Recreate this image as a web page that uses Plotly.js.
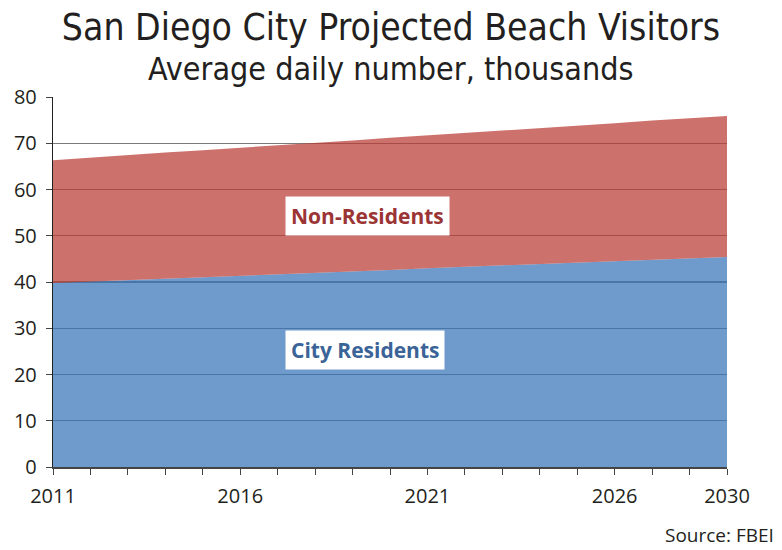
<!DOCTYPE html>
<html>
<head>
<meta charset="utf-8">
<script src="https://cdn.plot.ly/plotly-3.0.1.min.js"></script>
<style>
  html, body { margin: 0; padding: 0; background: #fff; }
  #chart { width: 782px; height: 550px; }
</style>
</head>
<body>
<div id="chart"></div>
<script>
// Visitantes promedio diarios (miles), San Diego
const years        = ['2011','2012','2013','2014','2015','2016','2017','2018','2019','2020',
                      '2021','2022','2023','2024','2025','2026','2027','2028','2030'];
const residents    = [39.8, 40.1, 40.4, 40.7, 41.0, 41.4, 41.7, 42.0, 42.3, 42.6,
                      43.0, 43.3, 43.6, 43.9, 44.2, 44.5, 44.8, 45.1, 45.4];
const nonResidents = [26.5, 26.8, 27.1, 27.3, 27.5, 27.6, 27.9, 28.1, 28.3, 28.6,
                      28.7, 28.9, 29.1, 29.4, 29.6, 29.8, 30.1, 30.3, 30.5];
const shownYears   = ['2011', '2016', '2021', '2026', '2030'];
const yTicks       = [0, 10, 20, 30, 40, 50, 60, 70, 80];

const FONT   = 'Open Sans, Liberation Sans, sans-serif';
const NARROW = 'Liberation Sans Narrow, DejaVu Sans Condensed, sans-serif';

const trazaRes = {
  x: years, y: residents, name: 'City Residents',
  type: 'scatter', mode: 'lines', stackgroup: 'v',
  line: { width: 0 }, fillcolor: 'rgba(55,115,184,0.72)',
  hoverinfo: 'skip'
};
const trazaNon = {
  x: years, y: nonResidents, name: 'Non-Residents',
  type: 'scatter', mode: 'lines', stackgroup: 'v',
  line: { width: 0 }, fillcolor: 'rgba(184,58,51,0.72)',
  hoverinfo: 'skip'
};

const layout = {
  width: 782, height: 550,
  margin: { l: 53, r: 55, t: 97, b: 83 },
  showlegend: false,
  title: {
    text: 'San Diego City Projected Beach Visitors',
    font: { family: NARROW, size: 37, color: '#231f20' },
    x: 0.5, xanchor: 'center', y: 0.95, yanchor: 'middle'
  },
  xaxis: {
    type: 'category', range: [0, years.length - 1],
    tickvals: years,
    ticktext: years.map(y => shownYears.includes(y) ? y : ''),
    ticks: 'outside', ticklen: 6, tickcolor: '#444', tickwidth: 1,
    ticklabelstandoff: 4,
    showline: true, linecolor: '#444', linewidth: 1.5,
    showgrid: false, zeroline: false,
    tickfont: { family: FONT, size: 20, color: '#231f20' }
  },
  yaxis: {
    range: [0, 80], tickvals: yTicks,
    ticks: 'outside', ticklen: 6, tickcolor: '#444',
    ticklabelstandoff: 5,
    showline: true, linecolor: '#222', linewidth: 1.2,
    showgrid: true, gridcolor: '#7a7a7a', gridwidth: 1.2, zeroline: false,
    tickfont: { family: FONT, size: 20, color: '#231f20' }
  },
  annotations: [
    { xref: 'paper', yref: 'paper', x: 0.5, y: 1.018, xanchor: 'center', yanchor: 'bottom',
      text: 'Average daily number, thousands', showarrow: false,
      font: { family: NARROW, size: 32, color: '#231f20' } },
    { xref: 'paper', yref: 'paper', x: 0.467, y: 0.678, xanchor: 'center', yanchor: 'middle',
      text: '<b>Non-Residents</b>', showarrow: false, bgcolor: '#fff', borderpad: 5,
      font: { family: FONT, size: 21, color: '#9b3434' } },
    { xref: 'paper', yref: 'paper', x: 0.463, y: 0.316, xanchor: 'center', yanchor: 'middle',
      text: '<b>City Residents</b>', showarrow: false, bgcolor: '#fff', borderpad: 5,
      font: { family: FONT, size: 21, color: '#3a6397' } },
    { xref: 'paper', yref: 'paper', x: 1.072, y: -0.185, xanchor: 'right', yanchor: 'middle',
      text: 'Source: FBEI', showarrow: false,
      font: { family: FONT, size: 19, color: '#231f20' } }
  ],
  plot_bgcolor: '#fff', paper_bgcolor: '#fff'
};

Plotly.newPlot('chart', [trazaRes, trazaNon], layout, { displayModeBar: false, staticPlot: true });
</script>
</body>
</html>
